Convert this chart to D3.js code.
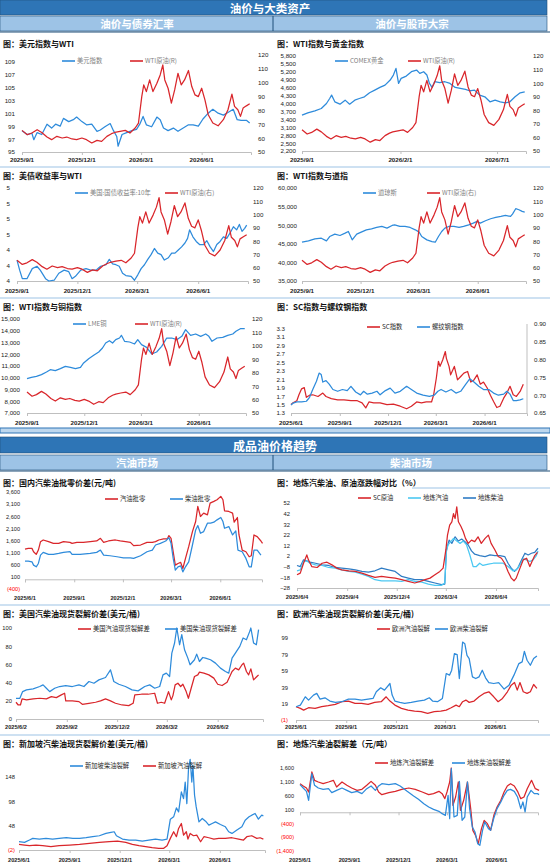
<!DOCTYPE html>
<html>
<head>
<meta charset="utf-8">
<script src="https://cdn.jsdelivr.net/npm/d3@7"></script>
<style>
  html, body { margin: 0; padding: 0; background: #fff; }
  svg { display: block; }
</style>
</head>
<body>
<svg id="board" width="550" height="866"></svg>
<script>
// ---- data: [day offset from series start, value] ----
const wtiPts = [[0,65.6],[8,62.5],[15,63.7],[23,66.1],[30,64.1],[38,60.8],[45,58.9],[53,61.3],[61,60.1],[68,60.8],[76,59.4],[83,58.9],[91,60.1],[98,58.9],[106,56.5],[114,58.4],[121,57.7],[129,61.3],[136,63.2],[141,64.1],[149,64.9],[157,65.6],[164,63.7],[172,67.3],[177,70.9],[182,90.0],[185,98.4],[189,93.6],[194,102.0],[199,93.6],[205,99.6],[210,105.6],[214,112.8],[217,102.0],[222,96.0],[227,85.3],[232,94.8],[237,106.8],[242,98.4],[247,102.0],[253,108.8],[258,97.2],[263,91.2],[268,90.0],[273,96.0],[278,87.6],[283,76.9],[290,70.9],[298,68.9],[306,73.3],[313,80.5],[319,91.7],[323,82.9],[328,80.5],[332,75.7],[336,81.7],[341,83.3],[346,84.8]];
const usdPts = [[0,98.3],[8,97.7],[15,97.9],[18,96.9],[23,98.0],[30,97.7],[38,99.3],[45,98.7],[51,99.3],[58,99.0],[63,100.2],[71,99.7],[78,100.0],[83,100.4],[91,99.7],[98,99.2],[106,99.3],[114,98.2],[119,98.4],[126,98.9],[134,99.4],[139,98.3],[144,97.4],[146,95.9],[152,97.7],[159,98.0],[167,98.3],[174,98.5],[179,99.3],[184,100.5],[189,99.2],[197,98.9],[205,100.4],[210,100.0],[215,98.7],[222,98.3],[230,98.7],[237,98.2],[245,98.7],[253,99.2],[260,99.2],[268,99.0],[275,100.1],[283,101.0],[290,101.6],[298,101.0],[306,100.7],[313,101.1],[321,101.6],[327,100.0],[333,99.9],[341,99.9],[346,99.5]];
const goldPts = [[0,3557],[9,3645],[20,3722],[30,3810],[38,4000],[43,4190],[46,4318],[51,4064],[59,3975],[67,4127],[74,3975],[82,4127],[89,4190],[97,4254],[105,4406],[113,4508],[121,4609],[129,4698],[137,4888],[142,5078],[146,5332],[150,4761],[154,4952],[162,5040],[170,5205],[178,5268],[183,5142],[189,5205],[194,5078],[198,4761],[202,4609],[206,4825],[214,4787],[222,4825],[230,4761],[238,4609],[246,4571],[254,4533],[260,4482],[268,4508],[276,4318],[284,4254],[292,4064],[300,4127],[308,4064],[316,4026],[323,4064],[331,4254],[339,4406],[346,4444]];
const ust10Pts = [[0,4.27],[4,4.14],[8,4.03],[15,4.03],[23,4.16],[30,4.19],[35,4.14],[43,4.03],[48,4.00],[56,4.01],[63,4.10],[71,4.14],[78,4.12],[83,4.03],[88,4.06],[96,4.14],[104,4.16],[111,4.14],[119,4.14],[126,4.19],[134,4.21],[139,4.28],[144,4.22],[149,4.21],[154,4.19],[159,4.10],[164,4.07],[172,4.06],[177,4.01],[182,4.08],[187,4.16],[192,4.21],[197,4.28],[202,4.34],[207,4.42],[212,4.36],[217,4.34],[222,4.27],[228,4.30],[233,4.36],[238,4.36],[243,4.40],[248,4.44],[253,4.49],[257,4.55],[260,4.66],[265,4.57],[270,4.51],[275,4.47],[281,4.47],[286,4.52],[291,4.44],[296,4.38],[301,4.47],[306,4.51],[311,4.57],[316,4.55],[321,4.62],[326,4.70],[331,4.66],[335,4.73],[339,4.64],[343,4.68],[346,4.72]];
const dowPts = [[0,45430],[10,45790],[20,46330],[30,46510],[38,45790],[43,46960],[51,47590],[59,47230],[67,47860],[72,48310],[78,46060],[85,47590],[92,48130],[100,48760],[108,49030],[116,49390],[124,49660],[132,49210],[140,49930],[144,50110],[152,49660],[160,49660],[168,49390],[176,48760],[182,48130],[186,46960],[194,46060],[202,45610],[207,45430],[212,46960],[217,48310],[222,49210],[228,49660],[236,49660],[244,49390],[251,49660],[259,50110],[266,50560],[272,51010],[277,50560],[285,51190],[293,51730],[301,52090],[309,52360],[316,52630],[324,52360],[327,52990],[332,54430],[337,54160],[342,53710],[346,53530]];
const copperPts = [[0,9922],[7,10036],[15,10121],[23,10263],[31,10490],[37,10688],[45,10603],[53,10773],[61,10972],[69,10887],[77,10773],[85,10887],[90,11256],[98,11624],[106,11908],[114,12192],[120,12532],[125,12958],[131,13156],[136,12958],[141,13241],[147,13383],[150,13610],[155,13100],[163,13043],[171,12873],[176,13241],[182,12816],[190,12589],[198,12022],[206,12192],[214,12674],[222,13383],[230,13383],[238,13241],[246,13525],[252,14092],[260,13610],[268,13724],[276,13525],[284,13724],[289,13525],[294,13100],[302,13383],[311,13440],[319,13610],[327,13724],[332,13950],[339,14177],[346,14177]];
const scIdxPts = [[0,1.50],[4,1.54],[11,1.59],[15,1.73],[20,1.87],[25,1.90],[29,1.67],[35,1.72],[41,1.73],[51,1.69],[60,1.77],[66,1.69],[76,1.64],[88,1.61],[100,1.61],[113,1.59],[125,1.59],[134,1.54],[141,1.42],[147,1.56],[156,1.54],[168,1.54],[181,1.50],[193,1.51],[206,1.46],[218,1.40],[227,1.46],[237,1.56],[246,1.54],[255,1.56],[265,1.56],[269,1.73],[274,2.12],[278,2.52],[281,2.40],[286,2.55],[291,2.75],[293,2.59],[298,2.40],[301,2.20],[308,2.40],[314,2.08],[320,2.16],[326,2.24],[333,2.28],[339,2.03],[345,2.08],[351,2.20],[357,1.98],[363,2.03],[370,1.89],[376,1.72],[382,1.57],[388,1.43],[394,1.46],[401,1.65],[407,1.77],[413,1.93],[419,1.73],[425,1.69],[432,1.81],[438,1.98]];
const rebarPts = [[0,0.672],[4,0.678],[11,0.681],[20,0.681],[29,0.683],[35,0.694],[41,0.716],[48,0.739],[53,0.762],[57,0.758],[60,0.737],[66,0.741],[72,0.731],[79,0.716],[88,0.711],[97,0.716],[106,0.713],[113,0.725],[122,0.709],[131,0.701],[137,0.711],[144,0.703],[153,0.706],[162,0.711],[168,0.701],[178,0.713],[187,0.720],[196,0.706],[206,0.711],[218,0.725],[227,0.716],[237,0.706],[249,0.700],[261,0.697],[270,0.700],[277,0.711],[283,0.716],[292,0.709],[302,0.716],[311,0.706],[320,0.711],[329,0.730],[337,0.746],[345,0.737],[354,0.725],[363,0.716],[373,0.716],[382,0.706],[391,0.700],[401,0.703],[407,0.711],[413,0.703],[419,0.685],[425,0.685],[432,0.687],[438,0.690]];
const gasWrPts = [[0,1248],[6,1276],[13,1276],[16,1137],[21,1027],[25,1206],[29,1552],[34,1621],[44,1552],[53,1483],[63,1483],[72,1552],[84,1524],[88,1483],[97,1524],[109,1524],[122,1552],[134,1580],[141,1690],[147,1524],[156,1580],[169,1621],[178,1580],[188,1552],[197,1524],[203,1386],[216,1414],[228,1524],[238,1524],[244,1552],[250,1621],[259,1663],[266,1663],[269,1801],[273,1690],[277,1137],[281,584],[286,653],[291,695],[295,446],[300,861],[306,1345],[313,1967],[319,2382],[323,3004],[328,2589],[334,2727],[341,2658],[346,3142],[353,3212],[359,3281],[366,3419],[370,3281],[373,2824],[381,2797],[388,2727],[391,2354],[397,2548],[400,1829],[406,1206],[413,1137],[419,930],[423,971],[428,1829],[434,1760],[441,1580],[444,1483]];
const dslWrPts = [[0,750],[6,750],[13,722],[16,584],[21,515],[25,653],[29,999],[34,1110],[44,1027],[53,1027],[63,1068],[72,1110],[84,1137],[88,1027],[103,1027],[122,1068],[134,1110],[141,1206],[147,999],[159,971],[172,930],[184,888],[197,888],[203,861],[216,971],[228,1137],[238,1206],[244,1414],[253,1483],[263,1580],[269,1718],[273,1483],[277,861],[281,377],[286,515],[291,556],[295,307],[300,515],[306,722],[313,1414],[319,2036],[323,2216],[328,1898],[334,1967],[341,2313],[347,2313],[353,2354],[359,2451],[366,2548],[370,2382],[373,2105],[381,2175],[388,1829],[394,1995],[398,1206],[406,1137],[413,861],[419,515],[423,515],[428,1206],[434,1206],[441,999]];
const scChgPts = [[0,-15.5],[6,-14.0],[12,-4.7],[18,3.1],[21,-1.5],[27,-7.8],[37,-8.7],[46,-4.7],[55,-3.7],[64,-6.2],[73,-9.3],[82,-10.9],[95,-11.8],[107,-12.4],[119,-14.0],[131,-16.2],[143,-18.0],[155,-17.1],[168,-18.0],[180,-18.7],[192,-20.2],[204,-21.8],[216,-23.3],[226,-21.8],[235,-20.2],[244,-18.7],[253,-15.5],[262,-12.4],[268,-9.3],[273,7.8],[276,21.8],[280,31.1],[284,34.3],[287,42.0],[290,37.4],[293,48.3],[296,34.3],[301,29.6],[305,24.9],[309,18.7],[314,14.0],[320,17.1],[326,15.6],[332,20.2],[338,14.0],[345,18.7],[351,21.8],[356,14.0],[363,7.8],[369,1.6],[375,0.0],[381,-4.7],[387,-12.4],[393,-18.7],[398,-21.2],[402,-18.7],[409,-9.3],[415,-1.5],[421,0.0],[427,-7.8],[431,-3.1],[436,2.5],[441,5.6]];
const gasChgPts = [[0,-11.8],[6,-10.9],[12,-3.1],[18,-2.5],[24,-4.7],[34,-6.2],[46,-6.8],[58,-8.7],[70,-9.3],[82,-10.9],[95,-12.4],[107,-13.1],[119,-14.9],[131,-17.1],[143,-20.2],[155,-21.2],[168,-21.2],[180,-21.2],[192,-21.8],[204,-20.2],[216,-21.8],[229,-22.4],[241,-24.3],[253,-25.5],[265,-25.5],[271,-23.3],[274,6.2],[277,12.5],[282,15.6],[287,18.7],[293,16.2],[299,14.0],[305,16.2],[311,12.5],[317,3.1],[323,-7.8],[329,-7.8],[335,-4.7],[341,-6.8],[351,-5.6],[360,-4.7],[369,-4.7],[378,-4.7],[387,-7.8],[396,-11.8],[402,-10.9],[409,-6.2],[415,-0.6],[421,-1.5],[427,-3.1],[433,-1.5],[439,2.5],[442,6.9]];
const dslChgPts = [[0,-6.8],[6,-7.8],[12,-1.5],[18,-2.5],[24,-3.7],[34,-4.7],[46,-6.2],[58,-6.8],[70,-8.7],[82,-9.3],[95,-9.9],[107,-10.9],[119,-12.4],[131,-13.1],[143,-11.8],[155,-9.3],[168,-10.9],[180,-12.4],[192,-17.1],[204,-18.7],[216,-20.2],[229,-20.2],[241,-21.8],[253,-23.3],[265,-24.9],[271,-24.3],[274,7.8],[279,17.1],[284,14.0],[290,20.2],[296,16.2],[302,18.1],[308,15.6],[314,12.5],[320,6.9],[326,3.8],[335,2.5],[345,1.6],[354,3.1],[363,2.5],[372,2.5],[381,1.6],[387,-4.7],[393,-9.3],[399,-12.4],[405,-9.3],[412,-1.5],[418,4.7],[424,3.1],[430,4.7],[436,5.6],[442,9.4]];
const usGasPts = [[0,18.4],[4,15.4],[8,15.4],[11,22.1],[19,21.0],[31,22.1],[43,22.8],[55,22.1],[64,24.6],[73,23.5],[82,26.5],[88,28.3],[90,19.9],[102,19.9],[114,19.1],[120,16.2],[132,17.3],[144,18.4],[153,19.9],[162,22.1],[171,19.9],[180,17.3],[192,15.4],[204,14.7],[212,17.3],[215,26.5],[227,27.2],[239,27.2],[251,28.3],[256,17.3],[263,18.4],[269,17.3],[276,30.1],[281,21.0],[284,25.7],[288,37.5],[293,39.3],[298,35.7],[302,38.2],[308,30.1],[312,22.8],[317,33.8],[323,46.7],[329,48.5],[332,51.5],[340,50.4],[349,48.5],[358,44.9],[365,38.2],[373,36.8],[382,40.4],[391,52.2],[397,55.9],[403,54.0],[409,59.6],[412,61.4],[417,52.2],[421,48.5],[425,55.1],[430,43.0],[436,46.7],[439,48.5]];
const usDslPts = [[0,22.8],[7,22.8],[12,30.1],[19,32.0],[31,33.1],[43,35.7],[49,37.5],[55,33.8],[61,30.1],[70,33.8],[79,35.7],[90,36.8],[102,35.7],[114,37.5],[123,35.7],[132,41.2],[141,39.3],[150,43.0],[162,45.6],[171,54.0],[177,41.2],[186,38.2],[198,35.7],[210,32.0],[221,30.9],[233,35.7],[242,37.5],[251,33.8],[260,35.7],[266,48.5],[272,50.4],[278,46.7],[282,72.4],[287,83.5],[291,100.0],[296,81.6],[300,92.6],[305,76.1],[311,66.9],[315,59.6],[323,65.1],[327,71.3],[332,63.2],[338,67.6],[343,66.9],[352,65.1],[361,61.4],[370,55.9],[379,52.2],[385,50.4],[391,66.9],[397,72.4],[405,79.8],[411,89.0],[417,87.1],[423,96.3],[425,100.0],[430,83.5],[435,81.6],[439,98.2]];
const euGasPts = [[0,15.2],[8,13.2],[14,11.1],[23,14.0],[35,13.2],[47,15.2],[59,16.4],[72,18.0],[84,21.3],[96,22.1],[108,19.2],[120,19.2],[132,18.0],[144,20.5],[156,21.3],[165,27.3],[172,22.1],[181,17.2],[193,13.2],[205,11.1],[217,9.9],[229,9.1],[241,7.1],[253,9.1],[265,9.9],[275,11.1],[284,14.0],[293,17.2],[299,15.2],[305,21.3],[311,23.3],[317,20.5],[326,22.1],[335,27.3],[344,31.4],[353,33.4],[362,27.3],[370,21.3],[378,25.3],[387,33.4],[394,41.5],[400,44.7],[405,35.4],[410,44.7],[416,33.4],[423,31.4],[429,33.4],[435,42.3],[441,37.5]];
const euDslPts = [[0,15.2],[8,17.2],[17,27.3],[23,23.3],[32,29.4],[38,31.4],[44,24.5],[53,26.1],[62,22.1],[72,20.5],[84,21.3],[96,24.5],[108,24.5],[120,23.3],[132,24.5],[141,25.3],[147,33.4],[155,38.3],[162,35.4],[172,43.5],[176,29.4],[181,22.1],[190,20.5],[199,19.2],[211,20.5],[223,22.1],[235,23.3],[244,26.1],[250,22.1],[259,21.3],[268,25.3],[275,55.7],[281,53.7],[285,59.7],[290,80.0],[295,78.8],[299,49.6],[305,94.1],[309,92.1],[313,77.9],[317,73.9],[323,51.6],[329,49.6],[335,51.6],[341,59.7],[347,50.4],[353,44.7],[362,43.5],[371,44.7],[381,36.7],[390,41.5],[399,53.7],[408,67.8],[414,69.9],[418,82.8],[423,71.9],[429,65.8],[435,73.9],[441,77.1]];
const sgDslPts = [[0,15.0],[10,13.7],[19,18.5],[25,21.9],[37,20.5],[49,21.9],[61,20.5],[73,21.9],[86,23.2],[98,21.9],[110,21.9],[122,23.2],[134,25.3],[146,27.3],[158,32.1],[167,34.1],[173,35.5],[177,27.3],[188,20.5],[200,18.5],[212,18.5],[224,16.4],[236,18.5],[248,20.5],[260,18.5],[269,20.5],[275,61.4],[281,66.2],[286,84.6],[290,76.4],[295,117.3],[299,103.7],[302,137.7],[305,93.4],[308,165.0],[311,184.1],[314,137.7],[316,171.8],[319,110.5],[322,86.6],[327,55.9],[333,62.8],[339,57.3],[345,49.1],[351,52.5],[357,55.9],[366,50.5],[375,45.7],[381,35.5],[387,32.1],[396,38.9],[405,45.7],[411,59.3],[418,66.2],[423,69.6],[429,73.0],[435,61.4],[441,69.6],[444,68.2]];
const sgGasPts = [[0,9.6],[10,8.2],[19,6.9],[31,8.2],[43,6.9],[58,4.8],[73,6.9],[92,8.2],[110,9.6],[128,11.6],[146,13.7],[164,15.0],[179,16.4],[194,13.7],[206,9.6],[218,6.9],[230,4.8],[242,2.8],[254,1.4],[263,1.4],[269,6.9],[275,21.9],[281,35.5],[286,25.3],[290,42.3],[295,52.5],[299,28.7],[304,35.5],[307,20.5],[311,32.1],[317,27.3],[323,28.7],[330,15.0],[336,25.3],[345,23.2],[354,20.5],[363,21.9],[375,21.9],[387,23.2],[399,20.5],[408,18.5],[414,25.3],[423,27.3],[432,21.9],[438,23.2],[444,20.5]];
const lrGasPts = [[0,1034],[6,950],[12,877],[16,733],[22,1456],[27,1155],[34,1094],[43,1034],[53,1094],[62,1155],[68,914],[78,1094],[87,974],[96,877],[106,793],[115,829],[124,974],[132,1118],[140,974],[146,733],[152,637],[165,709],[177,757],[189,829],[202,877],[214,829],[227,733],[239,637],[248,673],[258,757],[264,673],[269,492],[273,733],[278,1094],[281,1600],[284,251],[289,552],[294,1094],[298,70],[304,432],[311,1094],[317,130],[321,-653],[326,-834],[331,-1135],[337,-593],[342,-291],[348,-412],[354,-653],[360,-111],[366,191],[373,432],[379,733],[385,950],[391,1034],[398,950],[404,757],[410,492],[416,552],[422,853],[430,1155],[437,853],[444,793]];
const lrDslPts = [[0,998],[6,877],[12,757],[16,432],[22,1396],[27,974],[34,877],[43,829],[53,853],[59,709],[68,793],[78,877],[87,793],[96,709],[106,757],[115,673],[124,853],[132,950],[140,793],[146,950],[152,1034],[165,998],[177,1034],[186,950],[199,757],[211,588],[220,468],[230,311],[239,191],[248,106],[258,34],[264,-50],[270,-111],[275,612],[278,-231],[281,1576],[286,-171],[292,-111],[296,1118],[301,-291],[306,-171],[311,1094],[315,130],[320,-532],[325,-713],[330,-1135],[334,-1195],[339,-653],[343,-352],[350,-593],[354,-653],[360,-207],[366,130],[373,372],[379,612],[385,793],[391,829],[398,757],[404,552],[410,130],[414,372],[418,10],[422,552],[429,793],[435,673],[441,673],[444,637]];

// ---- axis ticks ----
const wtiTicks = [50, 60, 70, 80, 90, 100, 110, 120];
const usdTicks = [95, 97, 99, 101, 103, 105, 107, 109];
const goldTicks = [2200, 2500, 2800, 3100, 3400, 3700, 4000, 4300, 4600, 4900, 5200, 5500, 5800];
const ustTicks = [4.0, 4.2, 4.4, 4.6, 4.8, 5.0, 5.2];
const dowTicks = [35000, 40000, 45000, 50000, 55000, 60000];
const copperTicks = [7000, 8000, 9000, 10000, 11000, 12000, 13000, 14000, 15000];
const scTicks = [1.3, 1.5, 1.7, 1.9, 2.1, 2.3, 2.5, 2.7, 2.9, 3.1, 3.3];
const rebarTicks = [0.65, 0.70, 0.75, 0.80, 0.85, 0.90];
const wrTicks = [-400, 100, 600, 1100, 1600, 2100, 2600, 3100, 3600];
const chgTicks = [-28, -18, -8, 2, 12, 22, 32, 42, 52];
const usTicks = [0, 20, 40, 60, 80, 100];
const euTicks = [-1, 19, 39, 59, 79, 99];
const sgTicks = [-2, 48, 98, 148];
const lrTicks = [-1400, -900, -400, 100, 600, 1100, 1600];

const datesTopQ = ['2025-09-01', '2025-12-01', '2026-03-01', '2026-06-01'];
const datesTop5 = ['2025-09-01', '2026-02-01', '2026-07-01'];
const datesLong = ['2025-06-01', '2025-09-01', '2025-12-01', '2026-03-01', '2026-06-01'];
const datesLong4 = ['2025-06-04', '2025-09-04', '2025-12-04', '2026-03-04', '2026-06-04'];
const datesLong2 = ['2025-06-02', '2025-09-02', '2025-12-02', '2026-03-02', '2026-06-02'];

// ---- styling ----
const BLUE = '#2E8BDB', RED = '#D9262B', CYAN = '#4CC8F2', BLUE2 = '#2F7CC4';
const HEAD = '#2E75B6', SUB = '#9DC3E6', RULE = '#9DC3E6';
const CJK = '"Noto Sans CJK SC", "Liberation Sans", sans-serif';
const NUMF = '"Liberation Sans", Arial, sans-serif';

const parseDate = d3.timeParse('%Y-%m-%d');
const fmtDate = d3.timeFormat('%Y/%-m/%-d');
const comma = d3.format(',');
const intF = d3.format('d');
const acct = v => v < 0 ? `(${comma(-v)})` : comma(v);

const svg = d3.select('#board');

// ---- banners ----
function banner(y, h, fill, size, labels) {
  svg.append('rect').attr('x', 0).attr('y', y).attr('width', 547).attr('height', h)
    .attr('fill', fill).attr('stroke', '#1F4E79').attr('stroke-width', 0.6);
  labels.forEach(([t, cx]) => {
    svg.append('text').attr('x', cx).attr('y', y + h / 2)
      .attr('dominant-baseline', 'central')
      .attr('text-anchor', 'middle').attr('fill', '#fff')
      .attr('font-family', CJK).attr('font-size', size).attr('font-weight', 'bold').text(t);
  });
}

banner(0, 15, HEAD, 11.5, [['油价与大类资产', 270]]);
banner(16, 15, SUB, 10.5, [['油价与债券汇率', 137], ['油价与股市大宗', 412]]);
svg.append('line').attr('x1', 273).attr('x2', 273).attr('y1', 16).attr('y2', 31).attr('stroke', '#1F4E79');
svg.append('line').attr('x1', 0).attr('x2', 550).attr('y1', 32).attr('y2', 32).attr('stroke', '#1F4E79');

svg.append('rect').attr('x', 0).attr('y', 428).attr('width', 550).attr('height', 5)
  .attr('fill', '#BDD7EE').attr('stroke', HEAD).attr('stroke-width', 1);
banner(437, 16, HEAD, 12, [['成品油价格趋势', 275]]);
banner(455, 15, SUB, 10.5, [['汽油市场', 137], ['柴油市场', 411]]);
svg.append('line').attr('x1', 273).attr('x2', 273).attr('y1', 455).attr('y2', 470).attr('stroke', '#1F4E79');
svg.append('line').attr('x1', 0).attr('x2', 550).attr('y1', 471).attr('y2', 471).attr('stroke', '#1F4E79');

[167, 298, 605, 735].forEach(y => {
  svg.append('line').attr('x1', 0).attr('x2', 550).attr('y1', y).attr('y2', y)
    .attr('stroke', RULE).attr('stroke-width', 1.2);
});
svg.append('line').attr('x1', 412).attr('x2', 550).attr('y1', 488).attr('y2', 488)
  .attr('stroke', RULE).attr('stroke-width', 1.2);

// ---- chart drawing ----
function drawChart(c) {
  const g = svg.append('g');
  const base = parseDate(c.base);
  const x = d3.scaleTime().domain([base, d3.timeDay.offset(base, c.span)]).range([c.x0, c.x1]);
  const scales = {
    left: d3.scaleLinear().domain(c.left.domain).range([c.y1, c.y0])
  };
  if (c.right) scales.right = d3.scaleLinear().domain(c.right.domain).range([c.y1, c.y0]);

  g.append('text').attr('x', c.tx).attr('y', c.ty)
    .attr('font-family', CJK).attr('font-size', 8).attr('font-weight', 'bold')
    .attr('fill', '#111').text(c.title);

  // x axis
  const tickDates = c.xTicks.map(parseDate);
  const axY = c.axisAt != null ? scales.left(c.axisAt) : c.y1;
  const xa = g.append('g').attr('transform', `translate(0,${axY})`)
    .call(d3.axisBottom(x).tickValues(tickDates).tickSize(3).tickFormat(''));
  xa.selectAll('path,line').attr('stroke', '#BFBFBF');
  g.selectAll(null).data(tickDates).join('text')
    .attr('x', d => x(d)).attr('y', c.labelY)
    .attr('text-anchor', 'middle').attr('font-family', NUMF)
    .attr('font-size', c.xFont || 6.2).attr('font-weight', 'bold').attr('fill', '#222')
    .text(fmtDate);

  // y axes
  const la = g.append('g').attr('transform', `translate(${c.left.at},0)`)
    .call(d3.axisLeft(scales.left).tickValues(c.left.ticks).tickSize(0).tickPadding(0).tickFormat(c.left.fmt));
  la.select('.domain').remove();
  la.attr('font-family', NUMF).attr('font-size', c.yFont || 6.2);
  la.selectAll('text').attr('fill', d => d < 0 && c.left.redNeg ? '#FF0000' : '#222');

  if (c.right) {
    const ra = g.append('g').attr('transform', `translate(${c.right.at},0)`)
      .call(d3.axisRight(scales.right).tickValues(c.right.ticks).tickSize(0).tickPadding(0).tickFormat(c.right.fmt));
    ra.select('.domain').remove();
    ra.attr('font-family', NUMF).attr('font-size', c.yFont || 6.2);
    ra.selectAll('text').attr('fill', '#222');
  }
  if (c.rightLine) {
    g.append('line').attr('x1', c.x1).attr('x2', c.x1).attr('y1', c.y0).attr('y2', c.y1)
      .attr('stroke', '#BFBFBF');
  }

  // series
  c.series.forEach(s => {
    const y = scales[s.axis];
    const line = d3.line()
      .x(d => x(d3.timeDay.offset(base, d[0])))
      .y(d => y(d[1]));
    g.append('path').datum(s.pts).attr('d', line)
      .attr('fill', 'none').attr('stroke', s.color).attr('stroke-width', 1.25)
      .attr('stroke-linejoin', 'round');
  });

  // legend
  c.legend.items.forEach(([label, color, lx]) => {
    g.append('line').attr('x1', lx).attr('x2', lx + 13).attr('y1', c.legend.y).attr('y2', c.legend.y)
      .attr('stroke', color).attr('stroke-width', 1.6);
    g.append('text').attr('x', lx + 15).attr('y', c.legend.y + 2.3)
      .attr('font-family', CJK).attr('font-size', 6.3).attr('fill', c.legend.color).text(label);
  });
}

const LEG_GREY = '#7F7F7F', LEG_DARK = '#262626';
const wtiRight = at => ({ domain: [50, 120], ticks: wtiTicks, fmt: intF, at });

const charts = [
  {
    title: '图：美元指数与WTI', tx: 3, ty: 47,
    base: '2025-09-01', span: 348, x0: 22, x1: 251, y0: 55, y1: 152, labelY: 162, xTicks: datesTopQ,
    left: { domain: [95, 110], ticks: usdTicks, fmt: intF, at: 15 },
    right: wtiRight(258),
    series: [{ pts: usdPts, axis: 'left', color: BLUE }, { pts: wtiPts, axis: 'right', color: RED }],
    legend: { y: 61, color: LEG_GREY, items: [['美元指数', BLUE, 62], ['WTI原油(R)', RED, 130]] }
  },
  {
    title: '图：WTI指数与黄金指数', tx: 277, ty: 47,
    base: '2025-09-01', span: 348, x0: 302, x1: 526, y0: 56, y1: 151, labelY: 162, xTicks: datesTop5,
    left: { domain: [2200, 5800], ticks: goldTicks, fmt: comma, at: 296 },
    right: wtiRight(533),
    series: [{ pts: goldPts, axis: 'left', color: BLUE }, { pts: wtiPts, axis: 'right', color: RED }],
    legend: { y: 61, color: LEG_GREY, items: [['COMEX黄金', BLUE, 335], ['WTI原油(R)', RED, 408]] }
  },
  {
    title: '图：美债收益率与WTI', tx: 3, ty: 179,
    base: '2025-09-01', span: 348, x0: 17, x1: 248, y0: 188, y1: 281, labelY: 293, xTicks: datesTopQ,
    left: { domain: [4.0, 5.2], ticks: ustTicks, fmt: d3.format('.0f'), at: 10 },
    right: wtiRight(253),
    series: [{ pts: ust10Pts, axis: 'left', color: BLUE }, { pts: wtiPts, axis: 'right', color: RED }],
    legend: { y: 193, color: LEG_GREY, items: [['美国:国债收益率:10年', BLUE, 75], ['WTI原油(右)', RED, 165]] }
  },
  {
    title: '图：WTI指数与道指', tx: 277, ty: 179,
    base: '2025-09-01', span: 348, x0: 302, x1: 526, y0: 188, y1: 281, labelY: 293, xTicks: datesTopQ,
    left: { domain: [35000, 60000], ticks: dowTicks, fmt: comma, at: 297 },
    right: wtiRight(533),
    series: [{ pts: dowPts, axis: 'left', color: BLUE }, { pts: wtiPts, axis: 'right', color: RED }],
    legend: { y: 193, color: LEG_GREY, items: [['道琼斯', BLUE, 363], ['WTI原油(右)', RED, 427]] }
  },
  {
    title: '图：WTI指数与铜指数', tx: 3, ty: 310,
    base: '2025-09-01', span: 348, x0: 27, x1: 246, y0: 319, y1: 413, labelY: 425, xTicks: datesTopQ,
    left: { domain: [7000, 15000], ticks: copperTicks, fmt: comma, at: 20 },
    right: wtiRight(252),
    series: [{ pts: copperPts, axis: 'left', color: BLUE }, { pts: wtiPts, axis: 'right', color: RED }],
    legend: { y: 324, color: LEG_GREY, items: [['LME铜', BLUE, 73], ['WTI原油(R)', RED, 135]] }
  },
  {
    title: '图：SC指数与螺纹钢指数', tx: 277, ty: 310,
    base: '2025-06-01', span: 445, x0: 291, x1: 527, y0: 324, y1: 413, labelY: 425, xTicks: datesLong,
    left: { domain: [1.3, 3.4], ticks: scTicks, fmt: d3.format('.1f'), at: 285 },
    right: { domain: [0.65, 0.90], ticks: rebarTicks, fmt: d3.format('.2f'), at: 534 },
    rightLine: true,
    series: [{ pts: scIdxPts, axis: 'left', color: RED }, { pts: rebarPts, axis: 'right', color: BLUE }],
    legend: { y: 327, color: LEG_DARK, items: [['SC指数', RED, 367], ['螺纹钢指数', BLUE, 417]] }
  },
  {
    title: '图：国内汽柴油批零价差(元/吨)', tx: 3, ty: 486,
    base: '2025-06-01', span: 443, x0: 25, x1: 262, y0: 492, y1: 589, labelY: 600, xTicks: datesLong,
    axisAt: 0, xFont: 5.6, yFont: 5.6,
    left: { domain: [-400, 3600], ticks: wrTicks, fmt: acct, at: 20, redNeg: true },
    series: [{ pts: gasWrPts, axis: 'left', color: RED }, { pts: dslWrPts, axis: 'left', color: BLUE }],
    legend: { y: 499, color: LEG_DARK, items: [['汽油批零', RED, 105], ['柴油批零', BLUE, 170]] }
  },
  {
    title: '图：地炼汽柴油、原油涨跌幅对比（%）', tx: 277, ty: 486,
    base: '2025-06-04', span: 442, x0: 297, x1: 538, y0: 503, y1: 588, labelY: 599, xTicks: datesLong4,
    xFont: 5.8, yFont: 5.8,
    left: { domain: [-28, 52], ticks: chgTicks, fmt: intF, at: 290 },
    series: [{ pts: dslChgPts, axis: 'left', color: BLUE2 }, { pts: gasChgPts, axis: 'left', color: CYAN },
             { pts: scChgPts, axis: 'left', color: RED }],
    legend: { y: 498, color: LEG_DARK, items: [['SC原油', RED, 358], ['地炼汽油', CYAN, 408], ['地炼柴油', BLUE2, 463]] }
  },
  {
    title: '图：美国汽柴油现货裂解价差(美元/桶)', tx: 3, ty: 617,
    base: '2025-06-02', span: 447, x0: 16, x1: 263, y0: 628, y1: 719, labelY: 729, xTicks: datesLong2,
    xFont: 5.6, yFont: 5.8,
    left: { domain: [0, 100], ticks: usTicks, fmt: intF, at: 12 },
    series: [{ pts: usGasPts, axis: 'left', color: RED }, { pts: usDslPts, axis: 'left', color: BLUE }],
    legend: { y: 629, color: LEG_DARK, items: [['美国汽油现货裂解差', RED, 78], ['美国柴油现货裂解差', BLUE, 165]] }
  },
  {
    title: '图：欧洲汽柴油现货裂解价差(美元/桶)', tx: 277, ty: 617,
    base: '2025-06-01', span: 443, x0: 296, x1: 538, y0: 638, y1: 720, labelY: 729, xTicks: datesLong,
    xFont: 5.6, yFont: 5.8,
    left: { domain: [-1, 99], ticks: euTicks, fmt: acct, at: 288, redNeg: true },
    series: [{ pts: euGasPts, axis: 'left', color: RED }, { pts: euDslPts, axis: 'left', color: BLUE }],
    legend: { y: 629, color: LEG_DARK, items: [['欧洲汽油裂解', RED, 377], ['欧洲柴油裂解', BLUE, 435]] }
  },
  {
    title: '图：新加坡汽柴油现货裂解价差(美元/桶)', tx: 3, ty: 747,
    base: '2025-06-01', span: 447, x0: 19, x1: 265, y0: 752.7, y1: 850, labelY: 862, xTicks: datesLong,
    xFont: 5.6, yFont: 5.8,
    left: { domain: [-2, 198], ticks: sgTicks, fmt: acct, at: 15, redNeg: true },
    series: [{ pts: sgGasPts, axis: 'left', color: RED }, { pts: sgDslPts, axis: 'left', color: BLUE }],
    legend: { y: 766, color: LEG_DARK, items: [['新加坡柴油裂解', BLUE, 70], ['新加坡汽油裂解', RED, 143]] }
  },
  {
    title: '图：地炼汽柴油裂解差（元/吨）', tx: 277, ty: 747,
    base: '2025-06-01', span: 442, x0: 300, x1: 538, y0: 768, y1: 851, labelY: 862, xTicks: datesLong,
    axisAt: 0, xFont: 5.6, yFont: 5.6,
    left: { domain: [-1400, 1600], ticks: lrTicks, fmt: acct, at: 294, redNeg: true },
    series: [{ pts: lrGasPts, axis: 'left', color: RED }, { pts: lrDslPts, axis: 'left', color: BLUE }],
    legend: { y: 763, color: LEG_DARK, items: [['地炼汽油裂解差', RED, 375], ['地炼柴油裂解差', BLUE, 452]] }
  }
];

charts.forEach(drawChart);
</script>
</body>
</html>
